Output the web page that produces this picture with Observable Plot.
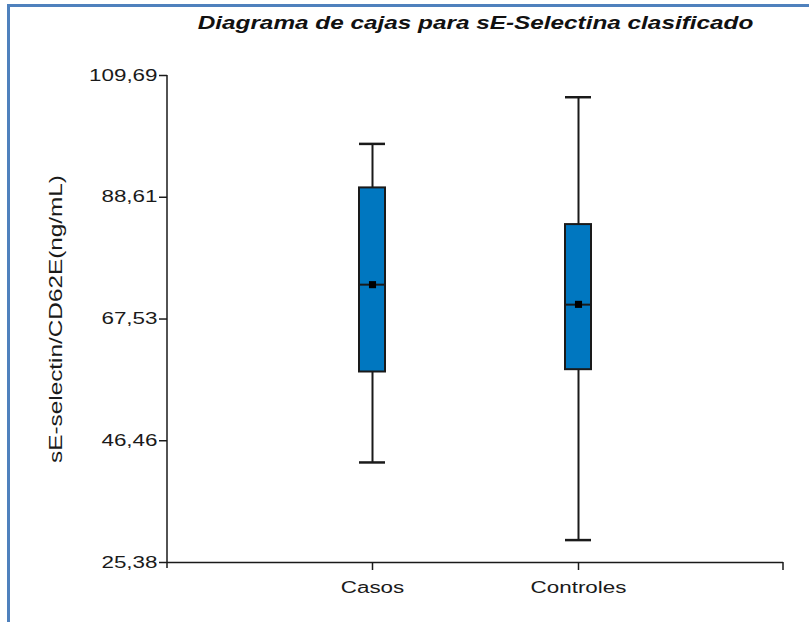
<!DOCTYPE html>
<html>
<head>
<meta charset="utf-8">
<script src="https://cdn.jsdelivr.net/npm/d3@7"></script>
<script src="https://cdn.jsdelivr.net/npm/@observablehq/plot@0.6"></script>
<style>
  html, body { margin: 0; padding: 0; background: #fff; }
  #wrap { position: relative; width: 809px; height: 622px; overflow: hidden; }
  #border { position: absolute; left: 7px; top: 4px; right: -10px; bottom: -10px;
            border-top: 3px solid #4f81bd; border-left: 3px solid #4f81bd; }
  #chart { position: absolute; left: 0; top: 0; }
</style>
</head>
<body>
<div id="wrap"><div id="border"></div><div id="chart"></div></div>
<script>
const title = "Diagrama de cajas para sE-Selectina clasificado";
const yLabel = "sE-selectin/CD62E(ng/mL)";
const categories = ["Casos", "Controles"];
const whiskerLow = [42.70, 29.26];
const q1 = [58.36, 58.76];
const median = [73.48, 70.02];
const mean = [73.48, 70.07];
const q3 = [90.23, 83.88];
const whiskerHigh = [97.85, 105.93];
const yTicks = [25.38, 46.46, 67.53, 88.61, 109.69];
const yTickLabels = ["25,38", "46,46", "67,53", "88,61", "109,69"];

const data = categories.map((c, i) => ({
  cat: c, lo: whiskerLow[i], q1: q1[i], med: median[i], mean: mean[i], q3: q3[i], hi: whiskerHigh[i]
}));

const ink = "#1a1a1a";
const plot = Plot.plot({
  width: 809, height: 622,
  marginLeft: 167, marginRight: 26, marginTop: 75, marginBottom: 60,
  style: { fontFamily: "'Liberation Sans', Arial, sans-serif", fontSize: "16px", color: ink, background: "transparent", overflow: "visible" },
  x: { type: "band", domain: categories, paddingInner: 0.874, paddingOuter: 0.925, align: 0.5 },
  y: { domain: [yTicks[0], yTicks[yTicks.length - 1]] },
  marks: [
    Plot.axisY({ ticks: yTicks, tickFormat: d => yTickLabels[yTicks.indexOf(d)], tickSize: 8, tickPadding: 2, label: null, stroke: ink, strokeWidth: 1.5, fill: ink }),
    Plot.axisX({ tickSize: 8, tickPadding: 11, label: null, stroke: ink, strokeWidth: 1.5, fill: ink }),
    Plot.ruleY([yTicks[0]], { stroke: ink, strokeWidth: 1.5 }),
    Plot.ruleX(data, { x: "cat", y1: "lo", y2: "hi", stroke: ink, strokeWidth: 2 }),
    Plot.tickY(data, { x: "cat", y: "lo", stroke: ink, strokeWidth: 2.5 }),
    Plot.tickY(data, { x: "cat", y: "hi", stroke: ink, strokeWidth: 2.5 }),
    Plot.barY(data, { x: "cat", y1: "q1", y2: "q3", fill: "#0077c0", stroke: ink, strokeWidth: 2 }),
    Plot.tickY(data, { x: "cat", y: "med", stroke: ink, strokeWidth: 2 }),
    Plot.dot(data, { x: "cat", y: "mean", symbol: "square", r: 4, fill: "#000", stroke: "none" }),
    Plot.text([title], { frameAnchor: "top", dy: -60, fontSize: 19, fontWeight: "bold", fontStyle: "italic", fill: "#111" }),
    Plot.text([yLabel], { frameAnchor: "left", dx: -112, rotate: -90, textAnchor: "middle", fontSize: 19, fill: ink })
  ]
});
document.getElementById("chart").append(plot);

// axis lines derived from scales
const xs = plot.scale("x"), ys = plot.scale("y");
const xr = xs.range, yr = ys.range;
const svg = d3.select(plot);
const g = svg.append("g").attr("stroke", ink).attr("stroke-width", 1.5);
g.append("line").attr("x1", xr[0]).attr("x2", xr[0]).attr("y1", yr[1]).attr("y2", yr[0] + 6);
g.append("line").attr("x1", xr[1]).attr("x2", xr[1]).attr("y1", yr[0]).attr("y2", yr[0] + 8);

// stretch text along its reading direction to mimic reference glyph proportions
function stretchFor(el) {
  const t = el.textContent;
  if (t === title) return 1.28;
  if (t === yLabel) return 1.28;
  const grp = el.closest("g[aria-label]");
  const lab = grp ? grp.getAttribute("aria-label") : "";
  if (lab === "y-axis tick label") return 1.4;
  if (lab === "x-axis tick label") return 1.4;
  return 0;
}
svg.selectAll("text").each(function () {
  const k = stretchFor(this);
  if (!k) return;
  const len = this.getComputedTextLength();
  if (len > 0) {
    this.setAttribute("textLength", len * k);
    this.setAttribute("lengthAdjust", "spacingAndGlyphs");
  }
});
</script>
</body>
</html>
